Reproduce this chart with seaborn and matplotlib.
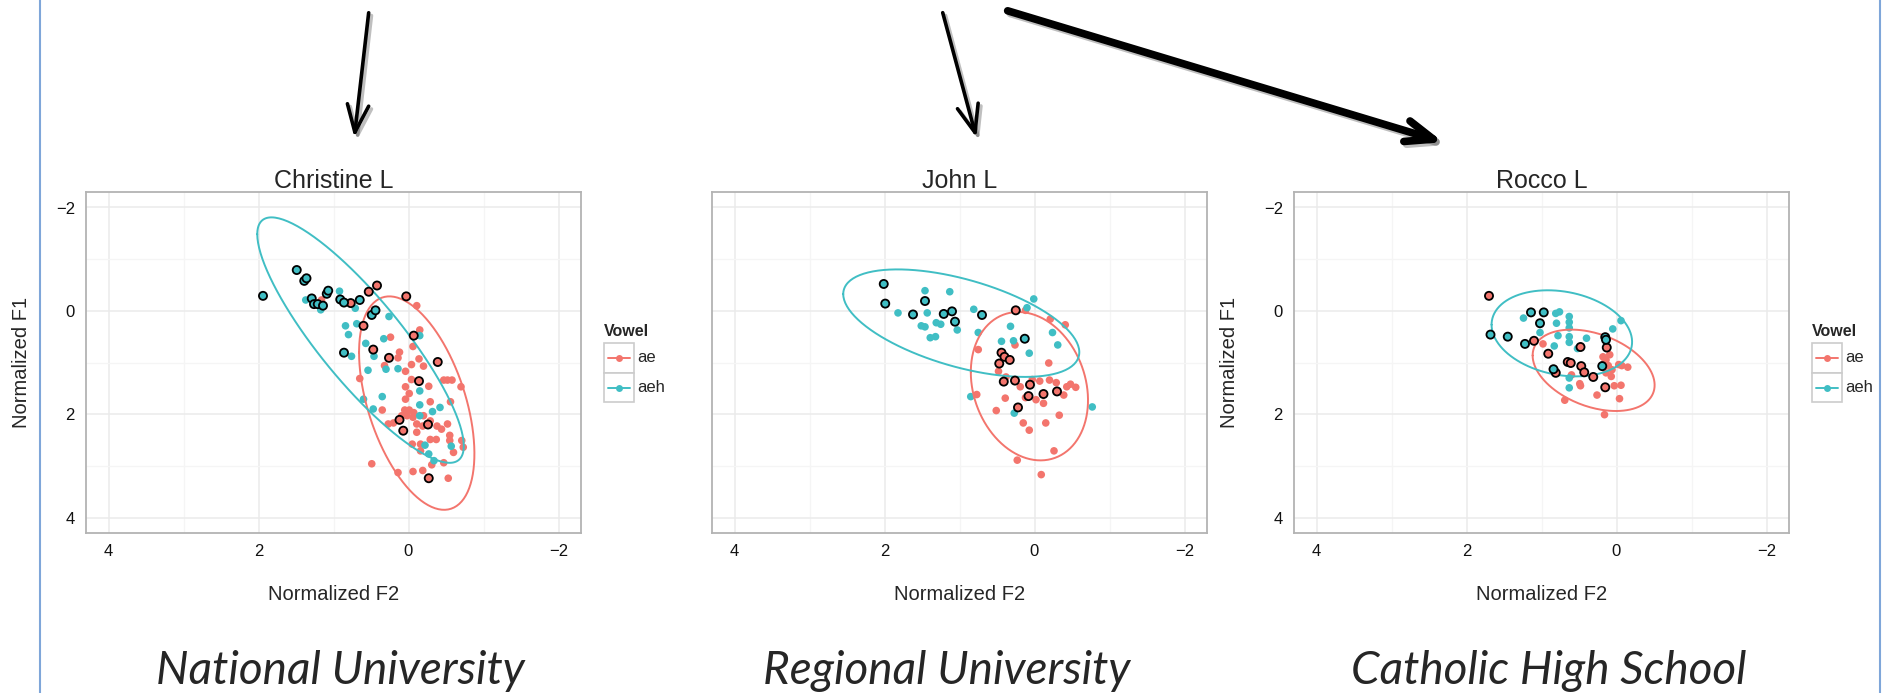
import numpy as np
import pandas as pd
import seaborn as sns
import matplotlib.pyplot as plt
from matplotlib.patches import Rectangle, FancyArrowPatch
from matplotlib.lines import Line2D
from matplotlib import patheffects

# Vowel categories and colours (ggplot-like hues)
vowels = ['ae', 'aeh']
vowel_colors = {'ae': '#F3756D', 'aeh': '#40BEC4'}

speakers = ['Christine L', 'John L', 'Rocco L']
schools = ['National University', 'Regional University', 'Catholic High School']

# ---- Christine L: normalized F2 / F1, ring = token circled in black ----
christine_ae_f2 = [0.42, 0.53, 0.03, 0.77, 0.60, 0.47, 0.26, -0.07, -0.39, -0.14, 0.12, 0.07, -0.26, -0.27,
                   1.16, -0.11, -0.15, 0.24, 0.12, 0.14, -0.06, -0.14, 0.32, 0.04, -0.04, -0.20, 0.65,
                   -0.04, 0.04, -0.27, -0.47, -0.52, -0.58, -0.70, -0.01, 0.04, -0.29, -0.56, 0.35, 0.05,
                   -0.01, -0.07, 0.09, 0.02, -0.06, -0.20, -0.29, -0.11, 0.27, 0.20, -0.19, -0.38, -0.52,
                   -0.11, -0.44, -0.55, -0.29, -0.37, -0.55, -0.71, -0.73, -0.05, -0.16, -0.60, -0.16,
                   -0.47, -0.31, -0.19, -0.06, 0.14, 0.49, -0.53]
christine_ae_f1 = [-0.49, -0.37, -0.28, -0.15, 0.29, 0.75, 0.91, 0.48, 0.99, 1.36, 2.11, 2.32, 2.20, 3.24,
                   -0.21, -0.10, 0.37, 0.51, 0.80, 0.91, 0.69, 0.93, 1.06, 1.17, 1.04, 1.07, 1.31,
                   1.33, 1.47, 1.46, 1.34, 1.34, 1.34, 1.47, 1.60, 1.71, 1.76, 1.76, 1.92, 1.92,
                   1.92, 1.97, 2.03, 2.03, 2.06, 2.03, 2.13, 2.19, 2.19, 2.17, 2.23, 2.23, 2.19,
                   2.35, 2.29, 2.41, 2.49, 2.49, 2.51, 2.51, 2.64, 2.58, 2.58, 2.74, 2.71,
                   2.94, 2.98, 3.09, 3.11, 3.13, 2.96, 3.24]
christine_ae_ring = [1] * 14 + [0] * 58

christine_aeh_f2 = [1.94, 1.49, 1.39, 1.36, 1.29, 1.26, 1.21, 1.14, 1.09, 1.07, 0.91, 0.86, 0.65, 0.49, 0.44, 0.86,
                    1.37, 1.17, 0.92, 0.71, 0.84, 0.80, 0.69, 0.26, 0.33, 0.57, -0.15, 0.76, 0.54, 0.46,
                    0.30, 0.14, 0.60, 0.35, 0.47, -0.15, -0.15, -0.32, -0.42, -0.22, -0.27, -0.34, -0.57, -0.15]
christine_aeh_f1 = [-0.29, -0.79, -0.58, -0.63, -0.24, -0.13, -0.13, -0.10, -0.33, -0.39, -0.22, -0.16, -0.21, 0.08, -0.01, 0.81,
                    -0.21, -0.02, -0.38, -0.05, 0.29, 0.46, 0.25, 0.11, 0.54, 0.63, 0.48, 0.88, 1.15, 0.88,
                    1.13, 1.12, 1.71, 1.66, 1.90, 1.55, 1.82, 1.95, 1.87, 2.60, 2.77, 2.90, 2.62, 2.03]
christine_aeh_ring = [1] * 16 + [0] * 28

# ---- John L ----
john_ae_f2 = [0.25, 0.44, 0.40, 0.33, 0.47, 0.41, 0.26, 0.06, 0.08, -0.12, -0.30, 0.22,
              0.12, -0.21, -0.41, 0.75, 0.26, -0.19, 0.48, 0.38, 0.19, 0.03, -0.07, -0.20, -0.29,
              -0.43, -0.48, -0.55, -0.39, 0.77, 0.39, 0.12, -0.02, -0.12, 0.51, -0.33, 0.15, -0.15,
              0.07, -0.26, 0.23, -0.09]
john_ae_f1 = [-0.01, 0.81, 0.89, 0.95, 1.02, 1.37, 1.35, 1.43, 1.65, 1.61, 1.56, 1.87,
              -0.01, 0.16, 0.27, 0.75, 0.66, 1.01, 1.17, 1.28, 1.47, 1.33, 1.36, 1.34, 1.39,
              1.47, 1.42, 1.48, 1.63, 1.62, 1.69, 1.68, 1.72, 1.79, 1.93, 2.02, 2.17, 2.17,
              2.31, 2.71, 2.89, 3.17]
john_ae_ring = [1] * 12 + [0] * 30

john_aeh_f2 = [2.01, 1.99, 1.46, 1.62, 1.21, 1.10, 1.06, 0.70, 0.13,
               1.46, 1.13, 1.82, 1.43, 1.51, 1.46, 1.31, 1.25, 1.03, 1.39, 1.32, 0.81, 0.75, 0.32,
               0.44, 0.28, 0.10, 0.01, 0.07, -0.24, -0.31, 0.85, 0.27, -0.77]
john_aeh_f1 = [-0.52, -0.14, -0.19, 0.07, 0.06, 0.01, 0.21, 0.08, 0.54,
               -0.39, -0.37, 0.04, 0.04, 0.29, 0.31, 0.23, 0.26, 0.37, 0.52, 0.50, -0.03, 0.42, 0.30,
               0.59, 0.58, -0.06, -0.23, 0.82, 0.42, 0.66, 1.66, 1.98, 1.86]
john_aeh_ring = [1] * 9 + [0] * 24

# ---- Rocco L ----
rocco_ae_f2 = [1.70, 1.10, 0.91, 0.65, 0.61, 0.47, 0.43, 0.48, 0.31, 0.15, 0.13, 0.81,
               0.98, 0.60, 0.49, 0.48, 0.69, 0.26, 0.16, 0.18, 0.14, 0.09, 0.17, 0.11, 0.06,
               0.14, 0.07, -0.03, -0.07, -0.15, 0.03, -0.06, -0.04]
rocco_ae_f1 = [-0.29, 0.58, 0.83, 0.99, 1.01, 1.07, 1.19, 0.70, 1.28, 1.48, 0.71, 1.20,
               0.64, 1.24, 1.41, 1.45, 1.73, 1.63, 2.01, 0.89, 0.95, 0.85, 1.02, 1.06, 1.14,
               1.20, 1.27, 1.04, 1.06, 1.09, 1.45, 1.44, 1.70]
rocco_ae_ring = [1] * 12 + [0] * 21

rocco_aeh_f2 = [1.68, 1.45, 1.22, 1.14, 0.97, 1.02, 0.84, 0.19, 0.15, 0.14,
                1.24, 1.02, 0.81, 0.76, 0.80, 0.78, 0.63, 0.63, 0.63, 0.63, 0.63, 0.52, 0.40,
                0.83, -0.06, 0.05, 0.63, 0.63]
rocco_aeh_f1 = [0.46, 0.50, 0.64, 0.03, 0.03, 0.24, 1.13, 1.07, 0.51, 0.56,
                0.14, 0.42, 0.05, 0.02, 0.24, 0.48, 0.11, 0.22, 0.33, 0.50, 0.61, 0.73, 0.53,
                0.68, 0.19, 0.35, 1.30, 1.49]
rocco_aeh_ring = [1] * 10 + [0] * 18

tick_values = [4, 2, 0, -2]
tick_labels = ['4', '2', '0', '\u22122']
ytick_values = [-2, 0, 2, 4]
ytick_labels = ['\u22122', '0', '2', '4']


def speaker_frame(ae_f2, ae_f1, ae_ring, aeh_f2, aeh_f1, aeh_ring):
    parts = []
    for v, f2, f1, ring in [('ae', ae_f2, ae_f1, ae_ring), ('aeh', aeh_f2, aeh_f1, aeh_ring)]:
        parts.append(pd.DataFrame({'F2': f2, 'F1': f1, 'Vowel': v, 'ring': ring}))
    return pd.concat(parts, ignore_index=True)


data = {
    'Christine L': speaker_frame(christine_ae_f2, christine_ae_f1, christine_ae_ring,
                                 christine_aeh_f2, christine_aeh_f1, christine_aeh_ring),
    'John L': speaker_frame(john_ae_f2, john_ae_f1, john_ae_ring,
                            john_aeh_f2, john_aeh_f1, john_aeh_ring),
    'Rocco L': speaker_frame(rocco_ae_f2, rocco_ae_f1, rocco_ae_ring,
                             rocco_aeh_f2, rocco_aeh_f1, rocco_aeh_ring),
}


def robust_cov(pts, nu=5, maxit=50, tol=1e-4):
    # multivariate t fit, same idea as MASS::cov.trob
    n, p = pts.shape
    loc = pts.mean(axis=0)
    w = np.ones(n)
    for _ in range(maxit):
        w0 = w
        X = pts - loc
        S = (X * (w / w.sum())[:, None]).T @ X
        Q = np.einsum('ij,jk,ik->i', X, np.linalg.inv(S), X)
        w = (nu + p) / (nu + Q)
        loc = (w[:, None] * pts).sum(axis=0) / w.sum()
        if np.all(np.abs(w - w0) < tol):
            break
    X = pts - loc
    return loc, (X * w[:, None]).T @ X / n


def ellipse(x, y, level=0.95, n=200):
    # like ggplot2 stat_ellipse(type = "t")
    pts = np.column_stack([x, y])
    loc, cov = robust_cov(pts)
    d = len(x) - 1
    fq = d / 2 * ((1 - level) ** (-2 / d) - 1)
    r = np.sqrt(2 * fq)
    L = np.linalg.cholesky(cov)
    t = np.linspace(0, 2 * np.pi, n)
    e = np.column_stack([np.cos(t), np.sin(t)]) * r @ L.T + loc
    return e[:, 0], e[:, 1]


sns.set_style('white')
plt.rcParams['font.family'] = ['Liberation Sans', 'DejaVu Sans']

W, H = 1887, 693
fig = plt.figure(figsize=(W / 100, H / 100), dpi=100)


def frect(l, t, r, b):
    return [l / W, 1 - b / H, (r - l) / W, (b - t) / H]


panel_left = [86, 712, 1294]
show_y = [True, False, True]
show_legend = [True, False, True]

for i, spk in enumerate(speakers):
    left = panel_left[i]
    ax = fig.add_axes(frect(left, 192, left + 495, 533))
    df = data[spk]

    ax.set_xticks([3, 1, -1], minor=True)
    ax.set_yticks([-1, 1, 3], minor=True)
    ax.grid(True, which='major', color='#ebebeb', lw=1.1)
    ax.grid(True, which='minor', color='#f5f5f5', lw=0.9)
    ax.set_axisbelow(True)

    sns.scatterplot(data=df, x='F2', y='F1', hue='Vowel', palette=vowel_colors,
                    s=30, linewidth=0, legend=False, ax=ax, zorder=2)
    for v in vowels:
        sub = df[df['Vowel'] == v]
        ex, ey = ellipse(sub['F2'].values, sub['F1'].values)
        ax.plot(ex, ey, color=vowel_colors[v], lw=1.4, zorder=3)
    sns.scatterplot(data=df[df['ring'] == 1], x='F2', y='F1', hue='Vowel', palette=vowel_colors,
                    s=34, edgecolor='black', linewidth=1.3, legend=False, ax=ax, zorder=4)

    ax.set_xlim(4.3, -2.3)
    ax.set_ylim(4.3, -2.3)
    ax.set_xticks(tick_values)
    ax.set_xticklabels(tick_labels)
    ax.set_yticks(ytick_values)
    for sp in ax.spines.values():
        sp.set_color('#b3b3b3')
        sp.set_linewidth(1.3)
    ax.tick_params(which='major', length=5, width=1, color='#333333', labelsize=12,
                   labelcolor='#111111', pad=3)
    ax.tick_params(which='minor', length=0)
    ax.set_title(spk, fontsize=18, pad=3)
    ax.set_xlabel('Normalized F2', fontsize=14.5)
    ax.xaxis.set_label_coords(0.5, -0.152)
    if show_y[i]:
        ax.set_yticklabels(ytick_labels)
        ax.set_ylabel('Normalized F1', fontsize=14.5)
        ax.yaxis.set_label_coords(-0.112, 0.5)
    else:
        ax.set_yticklabels([])
        ax.tick_params(axis='y', length=1.5)
        ax.set_ylabel('')

    if show_legend[i]:
        lx = left + 495 + 23
        fig.text(lx / W, 1 - 331 / H, 'Vowel', fontsize=11.5, fontweight='bold',
                 ha='left', va='center')
        for k, v in enumerate(vowels):
            top = 343 + k * 29.5
            fig.add_artist(Rectangle((lx / W, 1 - (top + 29.5) / H), 29.5 / W, 29.5 / H,
                                     transform=fig.transFigure, fc='white', ec='#cccccc', lw=1.2))
            cy = 1 - (top + 15) / H
            fig.add_artist(Line2D([(lx + 4) / W, (lx + 26) / W], [cy, cy], color=vowel_colors[v],
                                  lw=1.4, transform=fig.transFigure))
            fig.add_artist(Line2D([(lx + 15) / W], [cy], color=vowel_colors[v], marker='o',
                                  markersize=5, mec='none', transform=fig.transFigure))
            fig.text((lx + 33) / W, cy, v, fontsize=12, ha='left', va='center')

# School names under each panel
school_x = [340, 947, 1549]
for name, x in zip(schools, school_x):
    fig.text(x / W, 1 - 684 / H, name, fontsize=33, style='italic', family='Lato',
             ha='center', va='baseline')

# Arrows at the top of the slide
arrows = [((369, 10), (354, 140), 2.6), ((942, 10), (977, 140), 2.6), ((1005, 10), (1446, 143), 5.5)]
for (x0, y0), (x1, y1), lw in arrows:
    arr = FancyArrowPatch((x0 / W, 1 - y0 / H), (x1 / W, 1 - y1 / H), transform=fig.transFigure,
                          arrowstyle='->,head_length=0.9,head_width=0.35', mutation_scale=22,
                          color='black', lw=lw)
    arr.set_path_effects([patheffects.SimpleLineShadow(offset=(2, -2), alpha=0.25), patheffects.Normal()])
    fig.add_artist(arr)

# Slide frame lines
for xf in [40, 1880]:
    fig.add_artist(Line2D([xf / W, xf / W], [0, 1], color='#7fa6d9', lw=1.5, transform=fig.transFigure))

plt.savefig('out.png', dpi=100)
